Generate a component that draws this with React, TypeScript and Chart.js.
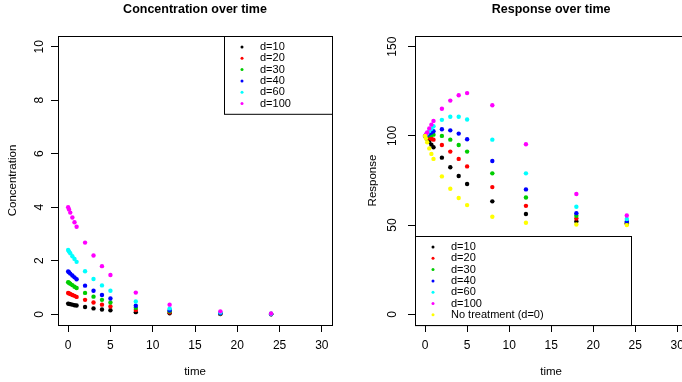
import React, { useEffect, useRef } from "react";
import { Chart, registerables } from "chart.js";

Chart.register(...registerables);

const FONT = '"Liberation Sans", Arial, Helvetica, sans-serif';

// ---- data ----
const times = [0, 0.1, 0.25, 0.5, 0.75, 1, 2, 3, 4, 5, 8, 12, 18, 24];

const doseLabels = ["d=10", "d=20", "d=30", "d=40", "d=60", "d=100"];
const doseColors = ["#000000", "#FF0000", "#00CD00", "#0000FF", "#00FFFF", "#FF00FF"];
const noTreatLabel = "No treatment (d=0)";
const noTreatColor = "#FFFF00";

const conc10 = [0.4, 0.39, 0.38, 0.36, 0.34, 0.33, 0.27, 0.22, 0.18, 0.15, 0.08, 0.04, 0.01, 0.0];
const conc20 = [0.8, 0.78, 0.76, 0.72, 0.69, 0.65, 0.54, 0.44, 0.36, 0.29, 0.16, 0.07, 0.02, 0.01];
const conc30 = [1.2, 1.18, 1.14, 1.09, 1.03, 0.98, 0.8, 0.66, 0.54, 0.44, 0.24, 0.11, 0.03, 0.01];
const conc40 = [1.6, 1.57, 1.52, 1.45, 1.38, 1.31, 1.07, 0.88, 0.72, 0.59, 0.32, 0.15, 0.04, 0.01];
const conc60 = [2.4, 2.35, 2.28, 2.17, 2.07, 1.96, 1.61, 1.32, 1.08, 0.88, 0.48, 0.22, 0.07, 0.02];
const conc100 = [4.0, 3.92, 3.8, 3.62, 3.44, 3.27, 2.68, 2.2, 1.8, 1.47, 0.81, 0.36, 0.11, 0.03];

const resp10 = [100, 99.3, 98.3, 96.6, 95.1, 93.6, 87.8, 82.4, 77.5, 73.0, 63.3, 56.2, 52.0, 50.6];
const resp20 = [100, 99.8, 99.5, 98.9, 98.4, 97.9, 94.9, 91.2, 87.1, 82.9, 71.3, 60.8, 53.7, 51.0];
const resp30 = [100, 100.1, 100.2, 100.4, 100.5, 100.7, 100.0, 97.9, 94.9, 91.2, 79.0, 65.5, 55.2, 51.5];
const resp40 = [100, 100.3, 100.7, 101.3, 101.9, 102.6, 103.7, 103.1, 101.3, 98.1, 85.9, 70.0, 56.7, 52.0];
const resp60 = [100, 100.6, 101.4, 102.7, 104.0, 105.4, 109.0, 110.7, 110.7, 109.2, 97.9, 79.0, 60.3, 53.4];
const resp100 = [100, 100.8, 102.0, 104.2, 106.3, 108.4, 115.2, 119.8, 122.8, 124.0, 117.2, 95.3, 67.4, 55.4];
const respNone = [100, 98.5, 96.4, 93.0, 89.9, 87.1, 77.3, 70.4, 65.2, 61.2, 54.7, 51.3, 50.3, 50.0];

const xTicks = [0, 5, 10, 15, 20, 25, 30];
const concTicks = [0, 2, 4, 6, 8, 10];
const respTicks = [0, 50, 100, 150];

const concSeries = [conc10, conc20, conc30, conc40, conc60, conc100];
const respSeries = [resp10, resp20, resp30, resp40, resp60, resp100, respNone];

// ---- plugin: R-style box + legend ----
const rBoxLegend = {
  id: "rBoxLegend",
  afterDraw(chart: any, _args: any, opts: any) {
    const { ctx, chartArea: a } = chart;
    ctx.save();
    ctx.strokeStyle = "#000";
    ctx.lineWidth = 1;
    ctx.strokeRect(
      Math.round(a.left) + 0.5,
      Math.round(a.top) + 0.5,
      Math.round(a.right) - Math.round(a.left),
      Math.round(a.bottom) - Math.round(a.top)
    );
    const ds = chart.data.datasets;
    const h = ds.length * opts.rowH + opts.extraH;
    const w = opts.width;
    const x0 = Math.round(opts.corner === "topright" ? a.right - w : a.left);
    const y0 = Math.round(opts.corner === "topright" ? a.top : a.bottom - h);
    ctx.fillStyle = "#fff";
    ctx.fillRect(x0, y0, w, h);
    ctx.strokeRect(x0 + 0.5, y0 + 0.5, w, h);
    ctx.font = `${opts.fontSize}px ${FONT}`;
    ctx.textBaseline = "middle";
    ctx.textAlign = "left";
    ds.forEach((d: any, i: number) => {
      const cy = y0 + opts.firstRow + i * opts.rowH;
      ctx.fillStyle = d.backgroundColor;
      ctx.beginPath();
      ctx.arc(x0 + opts.dotX, cy, opts.dotR, 0, Math.PI * 2);
      ctx.fill();
      ctx.fillStyle = "#000";
      ctx.fillText(d.label, x0 + opts.textX, cy);
    });
    ctx.restore();
  },
};

function makeDatasets(series: number[][], labels: string[], colors: string[]) {
  return series.map((arr, i) => ({
    label: labels[i],
    data: times.map((t, j) => ({ x: t, y: arr[j] })),
    backgroundColor: colors[i],
    borderColor: colors[i],
    borderWidth: 0,
    pointRadius: 2.2,
    pointHoverRadius: 2.2,
    showLine: false,
    order: -i,
  }));
}

function makeConfig(p: {
  title: string;
  datasets: any[];
  yMin: number;
  yMax: number;
  yTicks: number[];
  yTitle: string;
  yTitlePad: number;
  yWidth: number;
  rightPad: number;
  legend: any;
}): any {
  const gridOpts = {
    drawOnChartArea: false,
    drawTicks: true,
    tickLength: 7,
    color: "#000",
    tickColor: "#000",
    lineWidth: 1,
  };
  return {
    type: "scatter",
    data: { datasets: p.datasets },
    plugins: [rBoxLegend],
    options: {
      responsive: false,
      animation: false,
      events: [],
      layout: { padding: { left: 0, top: 0, bottom: 0, right: p.rightPad } },
      plugins: {
        legend: { display: false },
        tooltip: { enabled: false },
        title: {
          display: true,
          text: p.title,
          fullSize: false,
          color: "#000",
          font: { family: FONT, size: 12.5, weight: "bold", lineHeight: 1.2 },
          padding: { top: 2.5, bottom: 18.5 },
        },
        rBoxLegend: p.legend,
      },
      scales: {
        x: {
          type: "linear",
          position: "bottom",
          min: -1.2,
          max: 31.2,
          afterBuildTicks: (s: any) => {
            s.ticks = xTicks.map((v) => ({ value: v }));
          },
          afterFit: (s: any) => {
            s.height = 57;
          },
          grid: gridOpts,
          border: { display: false },
          ticks: {
            padding: 6,
            color: "#000",
            font: { family: FONT, size: 12 },
            maxRotation: 0,
            minRotation: 0,
            autoSkip: false,
          },
          title: {
            display: true,
            text: "time",
            color: "#000",
            font: { family: FONT, size: 11.5, lineHeight: 1.2 },
            padding: { top: 0, bottom: 3 },
          },
        },
        y: {
          type: "linear",
          position: "left",
          min: p.yMin,
          max: p.yMax,
          afterBuildTicks: (s: any) => {
            s.ticks = p.yTicks.map((v) => ({ value: v }));
          },
          afterFit: (s: any) => {
            s.width = p.yWidth;
          },
          grid: gridOpts,
          border: { display: false },
          ticks: {
            padding: 5,
            color: "#000",
            font: { family: FONT, size: 12 },
            minRotation: 90,
            maxRotation: 90,
            crossAlign: "center",
            autoSkip: false,
          },
          title: {
            display: true,
            text: p.yTitle,
            color: "#000",
            font: { family: FONT, size: 11.5, lineHeight: 1.2 },
            padding: { top: p.yTitlePad, bottom: 0 },
          },
        },
      },
    },
  };
}

export default function App() {
  const leftRef = useRef<HTMLCanvasElement | null>(null);
  const rightRef = useRef<HTMLCanvasElement | null>(null);

  useEffect(() => {
    Chart.defaults.font.family = FONT;
    Chart.defaults.color = "#000";
    const left = new Chart(
      leftRef.current as HTMLCanvasElement,
      makeConfig({
        title: "Concentration over time",
        datasets: makeDatasets(concSeries, doseLabels, doseColors),
        yMin: -0.4,
        yMax: 10.4,
        yTicks: concTicks,
        yTitle: "Concentration",
        yTitlePad: 6.4,
        yWidth: 58,
        rightPad: 9,
        legend: {
          corner: "topright",
          width: 108,
          rowH: 11.3,
          extraH: 10,
          firstRow: 11,
          dotX: 18,
          textX: 36,
          dotR: 1.5,
          fontSize: 11,
        },
      })
    );
    const right = new Chart(
      rightRef.current as HTMLCanvasElement,
      makeConfig({
        title: "Response over time",
        datasets: makeDatasets(
          respSeries,
          [...doseLabels, noTreatLabel],
          [...doseColors, noTreatColor]
        ),
        yMin: -6,
        yMax: 156,
        yTicks: respTicks,
        yTitle: "Response",
        yTitlePad: 24.5,
        yWidth: 74,
        rightPad: 1,
        legend: {
          corner: "bottomleft",
          width: 216,
          rowH: 11.3,
          extraH: 10,
          firstRow: 11,
          dotX: 18,
          textX: 36,
          dotR: 1.5,
          fontSize: 11,
        },
      })
    );
    return () => {
      left.destroy();
      right.destroy();
    };
  }, []);

  return (
    <div
      style={{
        position: "fixed",
        left: 0,
        top: 0,
        width: 682,
        height: 382,
        overflow: "hidden",
        background: "#fff",
      }}
    >
      <canvas
        ref={leftRef}
        width={341}
        height={382}
        style={{ position: "absolute", left: 0, top: 0, width: 341, height: 382, display: "block" }}
      />
      <canvas
        ref={rightRef}
        width={349}
        height={382}
        style={{ position: "absolute", left: 341, top: 0, width: 349, height: 382, display: "block" }}
      />
    </div>
  );
}
